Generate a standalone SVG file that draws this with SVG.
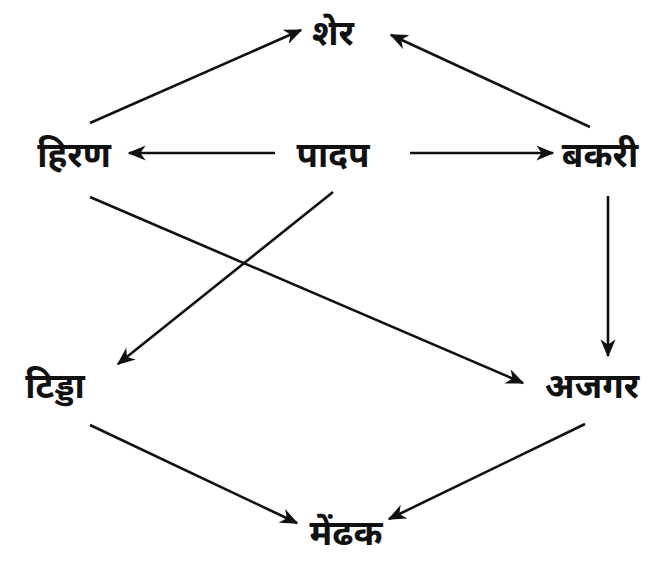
<svg xmlns="http://www.w3.org/2000/svg" width="648" height="561" viewBox="0 0 648 561">
<style>
.lbl{font-family:"Noto Sans Devanagari","Noto Serif Devanagari","Noto Sans",sans-serif;font-size:35px;font-weight:bold;fill:#111;text-anchor:middle}
.e{stroke:#111;stroke-width:2.6;fill:none;marker-end:url(#ah)}
</style>
<defs>
<marker id="ah" viewBox="0 0 12 10" refX="11" refY="5" markerWidth="7" markerHeight="6" orient="auto" markerUnits="strokeWidth">
<path d="M0,0 L12,5 L0,10 L3.5,5 z" fill="#111"/>
</marker>
</defs>
<rect width="648" height="561" fill="#fff"/>
<g id="connectors">
<line class="e" x1="90" y1="123" x2="301" y2="30"/>
<line class="e" x1="590" y1="127" x2="391" y2="35"/>
<line class="e" x1="275" y1="153" x2="129" y2="153"/>
<line class="e" x1="410" y1="153" x2="553" y2="153"/>
<line class="e" x1="608" y1="196" x2="608" y2="356"/>
<line class="e" x1="333" y1="192" x2="118" y2="364"/>
<line class="e" x1="90" y1="197" x2="523" y2="383"/>
<line class="e" x1="90" y1="425" x2="297" y2="523"/>
<line class="e" x1="585" y1="424" x2="389" y2="519"/>
</g>
<g id="sher"><text class="lbl" x="333" y="45">शेर</text></g>
<g id="hiran"><text class="lbl" x="74" y="167">हिरण</text></g>
<g id="padap"><text class="lbl" x="333" y="167">पादप</text></g>
<g id="bakri"><text class="lbl" x="600" y="167">बकरी</text></g>
<g id="tidda"><text class="lbl" x="55" y="398">टिड्डा</text></g>
<g id="ajgar"><text class="lbl" x="592" y="398">अजगर</text></g>
<g id="medhak"><text class="lbl" x="346" y="545">मेंढक</text></g>
</svg>
